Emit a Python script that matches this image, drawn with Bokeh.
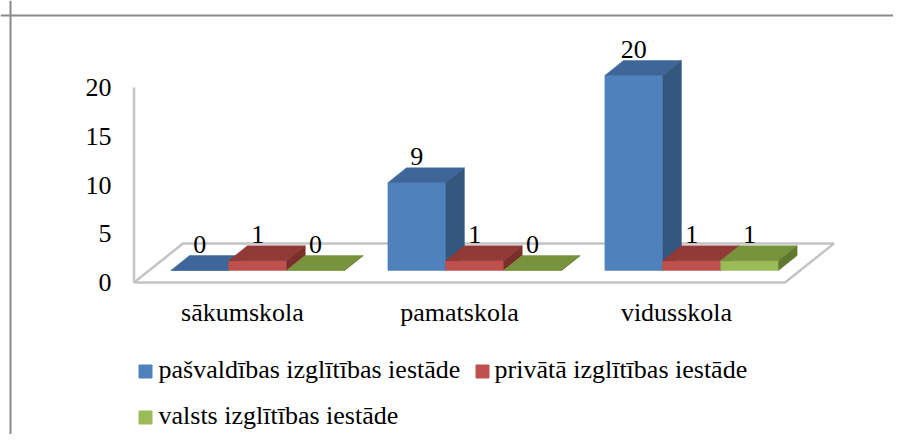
from bokeh.plotting import figure
from bokeh.models import Range1d, Span
from bokeh.core.properties import value
from bokeh.embed import file_html
from bokeh.resources import INLINE

# ---------------- data ----------------
categories = ["sākumskola", "pamatskola", "vidusskola"]
series_names = ["pašvaldības izglītības iestāde",
                "privātā izglītības iestāde",
                "valsts izglītības iestāde"]
pasvaldibas = [0, 9, 20]
privata = [1, 1, 1]
valsts = [0, 0, 1]
y_ticks = [0, 5, 10, 15, 20]

series = [pasvaldibas, privata, valsts]

# ---------------- style ----------------
front_colors = ["#4F81BD", "#C0504D", "#9BBB59"]
top_colors = ["#3E6698", "#913A37", "#77933C"]
side_colors = ["#34577F", "#7B2F2D", "#5F792F"]
FONT = value("'Liberation Serif', 'Times New Roman', serif")
FS = value("26px")

W, H = 893, 434
OFF = 0  # where the canvas starts in the picture
# picture mapping: sx = X0 + PXC * x ; sy = Y0 - PXV * v
X0, PXC = 242.0, 217.0
Y0, PXV = 282.0, 9.75


def dx(px):
    return (px - X0) / PXC


def dy(py):
    return (Y0 - py) / PXV


DEPTH_X = 49 / PXC
DEPTH_V = 39 / PXV
F0, F1 = 0.31, 0.69
GROUP_W = 0.8
bw = GROUP_W / len(series)

p = figure(width=W, height=H, output_backend="svg", toolbar_location=None,
           x_range=Range1d(dx(OFF), dx(OFF + W)), y_range=Range1d(dy(OFF + H), dy(OFF)),
           min_border=0)
p.axis.visible = False
p.grid.visible = False
p.outline_line_color = None
p.background_fill_color = "white"

# chart border (top & left visible)
p.add_layout(Span(location=dx(10), dimension="height", line_color="#8a8a8a", line_width=2))
p.add_layout(Span(location=dy(15), dimension="width", line_color="#8a8a8a", line_width=2))

# floor
n = len(categories)
fl, fr = -0.5, n - 0.5
p.patch([fl, fr, fr + DEPTH_X, fl + DEPTH_X], [0, 0, DEPTH_V, DEPTH_V],
        fill_color="white", line_color="#c4c4c4", line_width=2.5)
# vertical axis line
p.line([fl, fl], [0, max(y_ticks)], line_color="#c4c4c4", line_width=2.5)

# bars
fx0, fv0 = F0 * DEPTH_X, F0 * DEPTH_V
ddx, ddv = (F1 - F0) * DEPTH_X, (F1 - F0) * DEPTH_V
LABEL_GAP = 11 / PXV
for j, vals in enumerate(series):
    L = [i - GROUP_W / 2 + j * bw + fx0 for i in range(n)]
    R = [l + bw for l in L]
    B = [fv0] * n
    T = [fv0 + v for v in vals]
    p.quad(left=L, right=R, bottom=B, top=T, fill_color=front_colors[j],
           line_color=front_colors[j], line_width=0.5)
    tx = [[l, r, r + ddx, l + ddx] for l, r in zip(L, R)]
    ty = [[t, t, t + ddv, t + ddv] for t in T]
    p.patches(tx, ty, fill_color=top_colors[j], line_color=top_colors[j], line_width=0.5)
    sxs = [[r, r, r + ddx, r + ddx] for r in R]
    sys_ = [[b, t, t + ddv, b + ddv] for b, t in zip(B, T)]
    p.patches(sxs, sys_, fill_color=side_colors[j], line_color=side_colors[j], line_width=0.5)
    # value labels
    p.text(x=[l + bw / 2 for l in L], y=[t + ddv + LABEL_GAP for t in T],
           text=[str(v) for v in vals], text_font=FONT, text_font_size=FS,
           text_align="center", text_baseline="middle", text_color="black")

# y tick labels
p.text(x=[dx(111)] * len(y_ticks), y=y_ticks, text=[str(t) for t in y_ticks],
       text_font=FONT, text_font_size=FS, text_align="right",
       text_baseline="middle", text_color="black")

# category labels
p.text(x=list(range(n)), y=[dy(312)] * n, text=categories, text_font=FONT,
       text_font_size=FS, text_align="center", text_baseline="middle",
       text_color="black")

# legend
leg_sq_x = [dx(145), dx(482), dx(145)]
leg_sq_y = [dy(371), dy(371), dy(417)]
leg_tx = [dx(158), dx(494), dx(158)]
leg_ty = [dy(369), dy(369), dy(415)]
p.scatter(x=leg_sq_x, y=leg_sq_y, marker="square", size=13,
          fill_color=front_colors, line_color=front_colors)
p.text(x=leg_tx, y=leg_ty, text=series_names, text_font=FONT, text_font_size=FS,
       text_align="left", text_baseline="middle", text_color="black")

open("out.html", "w").write(file_html(p, INLINE))
